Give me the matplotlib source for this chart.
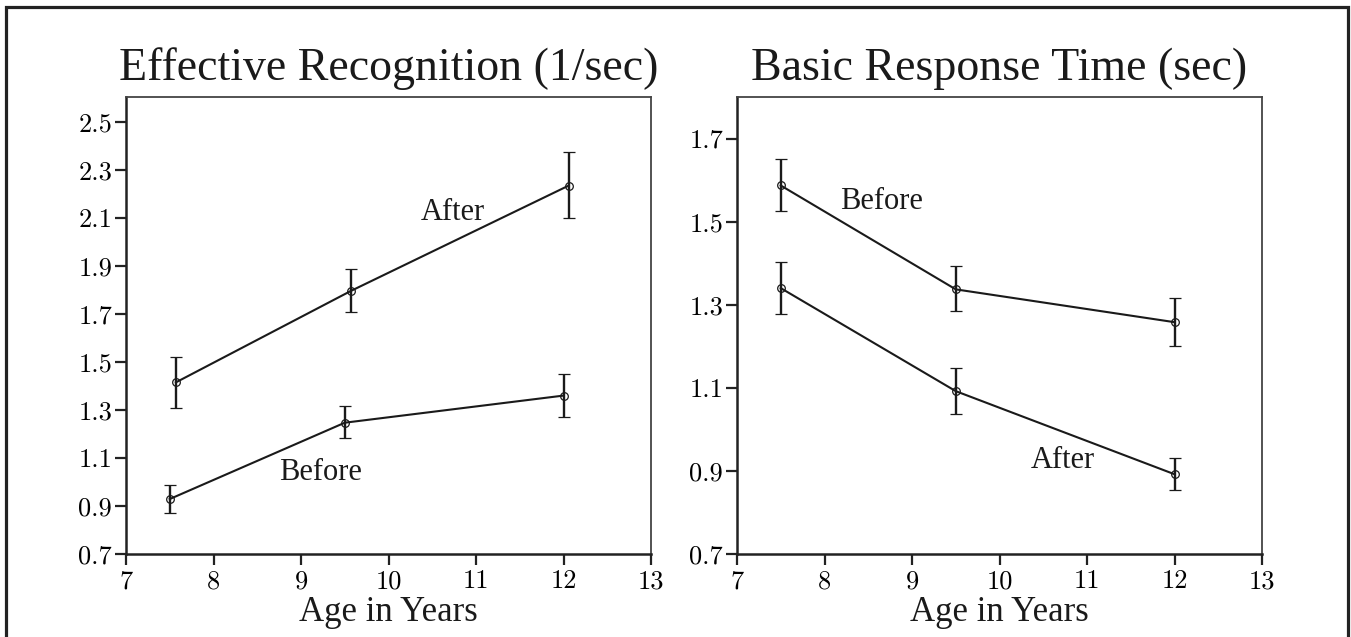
import matplotlib
matplotlib.use("Agg")
import matplotlib.pyplot as plt
from matplotlib.patches import Rectangle

# Valores
age_before_l = [7.50, 9.50, 12.00]
rec_before = [0.929, 1.247, 1.360]
rec_before_lo = [0.872, 1.182, 1.272]
rec_before_hi = [0.986, 1.317, 1.449]

age_after_l = [7.57, 9.57, 12.06]
rec_after = [1.415, 1.796, 2.235]
rec_after_lo = [1.310, 1.710, 2.099]
rec_after_hi = [1.520, 1.886, 2.376]

age_r = [7.50, 9.50, 12.00]
rt_before = [1.587, 1.337, 1.258]
rt_before_lo = [1.525, 1.285, 1.200]
rt_before_hi = [1.651, 1.393, 1.315]
rt_after = [1.340, 1.092, 0.892]
rt_after_lo = [1.277, 1.036, 0.854]
rt_after_hi = [1.404, 1.148, 0.930]

x_ticks = [7, 8, 9, 10, 11, 12, 13]
y_ticks_l = [0.7, 0.9, 1.1, 1.3, 1.5, 1.7, 1.9, 2.1, 2.3, 2.5]
y_ticks_r = [0.7, 0.9, 1.1, 1.3, 1.5, 1.7]

titles = ["Effective Recognition (1/sec)", "Basic Response Time (sec)"]
xlabel = "Age in Years"

serif = "Liberation Serif"
ink = "#1a1a1a"

fig = plt.figure(figsize=(13.51, 6.37), dpi=100)
fig.patch.set_facecolor("white")

# Marco exterior
fig.patches.append(Rectangle((6 / 1351, -0.05), 1342 / 1351, 1.05 - 7 / 637,
                             transform=fig.transFigure, fill=False,
                             edgecolor="#222222", linewidth=2.3))

ax1 = fig.add_axes([126 / 1351, 1 - 554 / 637, 525 / 1351, 457 / 637])
ax2 = fig.add_axes([737 / 1351, 1 - 554 / 637, 525 / 1351, 457 / 637])


def err(vals, lo, hi):
    return [[v - l for v, l in zip(vals, lo)], [h - v for v, h in zip(vals, hi)]]


def series(ax, x, y, lo, hi):
    ax.errorbar(x, y, yerr=err(y, lo, hi), color=ink, linewidth=1.5,
                marker="o", markersize=5.5, markerfacecolor="none",
                markeredgewidth=0.9, elinewidth=1.7, capsize=4.5, capthick=1.7)


series(ax1, age_after_l, rec_after, rec_after_lo, rec_after_hi)
series(ax1, age_before_l, rec_before, rec_before_lo, rec_before_hi)
series(ax2, age_r, rt_before, rt_before_lo, rt_before_hi)
series(ax2, age_r, rt_after, rt_after_lo, rt_after_hi)

ax1.text(10.74, 2.092, "After", fontsize=22, family=serif, ha="center", va="baseline", color=ink)
ax1.text(9.22, 1.008, "Before", fontsize=22, family=serif, ha="center", va="baseline", color=ink)
ax2.text(8.65, 1.531, "Before", fontsize=22, family=serif, ha="center", va="baseline", color=ink)
ax2.text(10.72, 0.906, "After", fontsize=22, family=serif, ha="center", va="baseline", color=ink)

for ax, title, yt, ylim in [(ax1, titles[0], y_ticks_l, (0.7, 2.604)),
                            (ax2, titles[1], y_ticks_r, (0.7, 1.80))]:
    ax.set_xlim(7, 13)
    ax.set_ylim(*ylim)
    ax.set_xticks(x_ticks)
    ax.set_xticklabels([str(t) for t in x_ticks], family="cmr10", fontsize=19)
    ax.set_yticks(yt)
    ax.set_yticklabels([f"{t:.1f}" for t in yt], family="cmr10", fontsize=19)
    ax.tick_params(direction="out", length=8, width=1.6, color="#222222", pad=2)
    ax.tick_params(axis="x", pad=3)
    for side in ["left", "bottom"]:
        ax.spines[side].set_linewidth(1.8)
        ax.spines[side].set_color("#222222")
    for side in ["top", "right"]:
        ax.spines[side].set_linewidth(1.3)
        ax.spines[side].set_color("#444444")
    ax.set_title(title, fontsize=33, family=serif, pad=12, color=ink)
    ax.set_xlabel(xlabel, fontsize=25, family=serif, labelpad=2, color=ink)

fig.savefig("out.png", dpi=100, facecolor="white")
